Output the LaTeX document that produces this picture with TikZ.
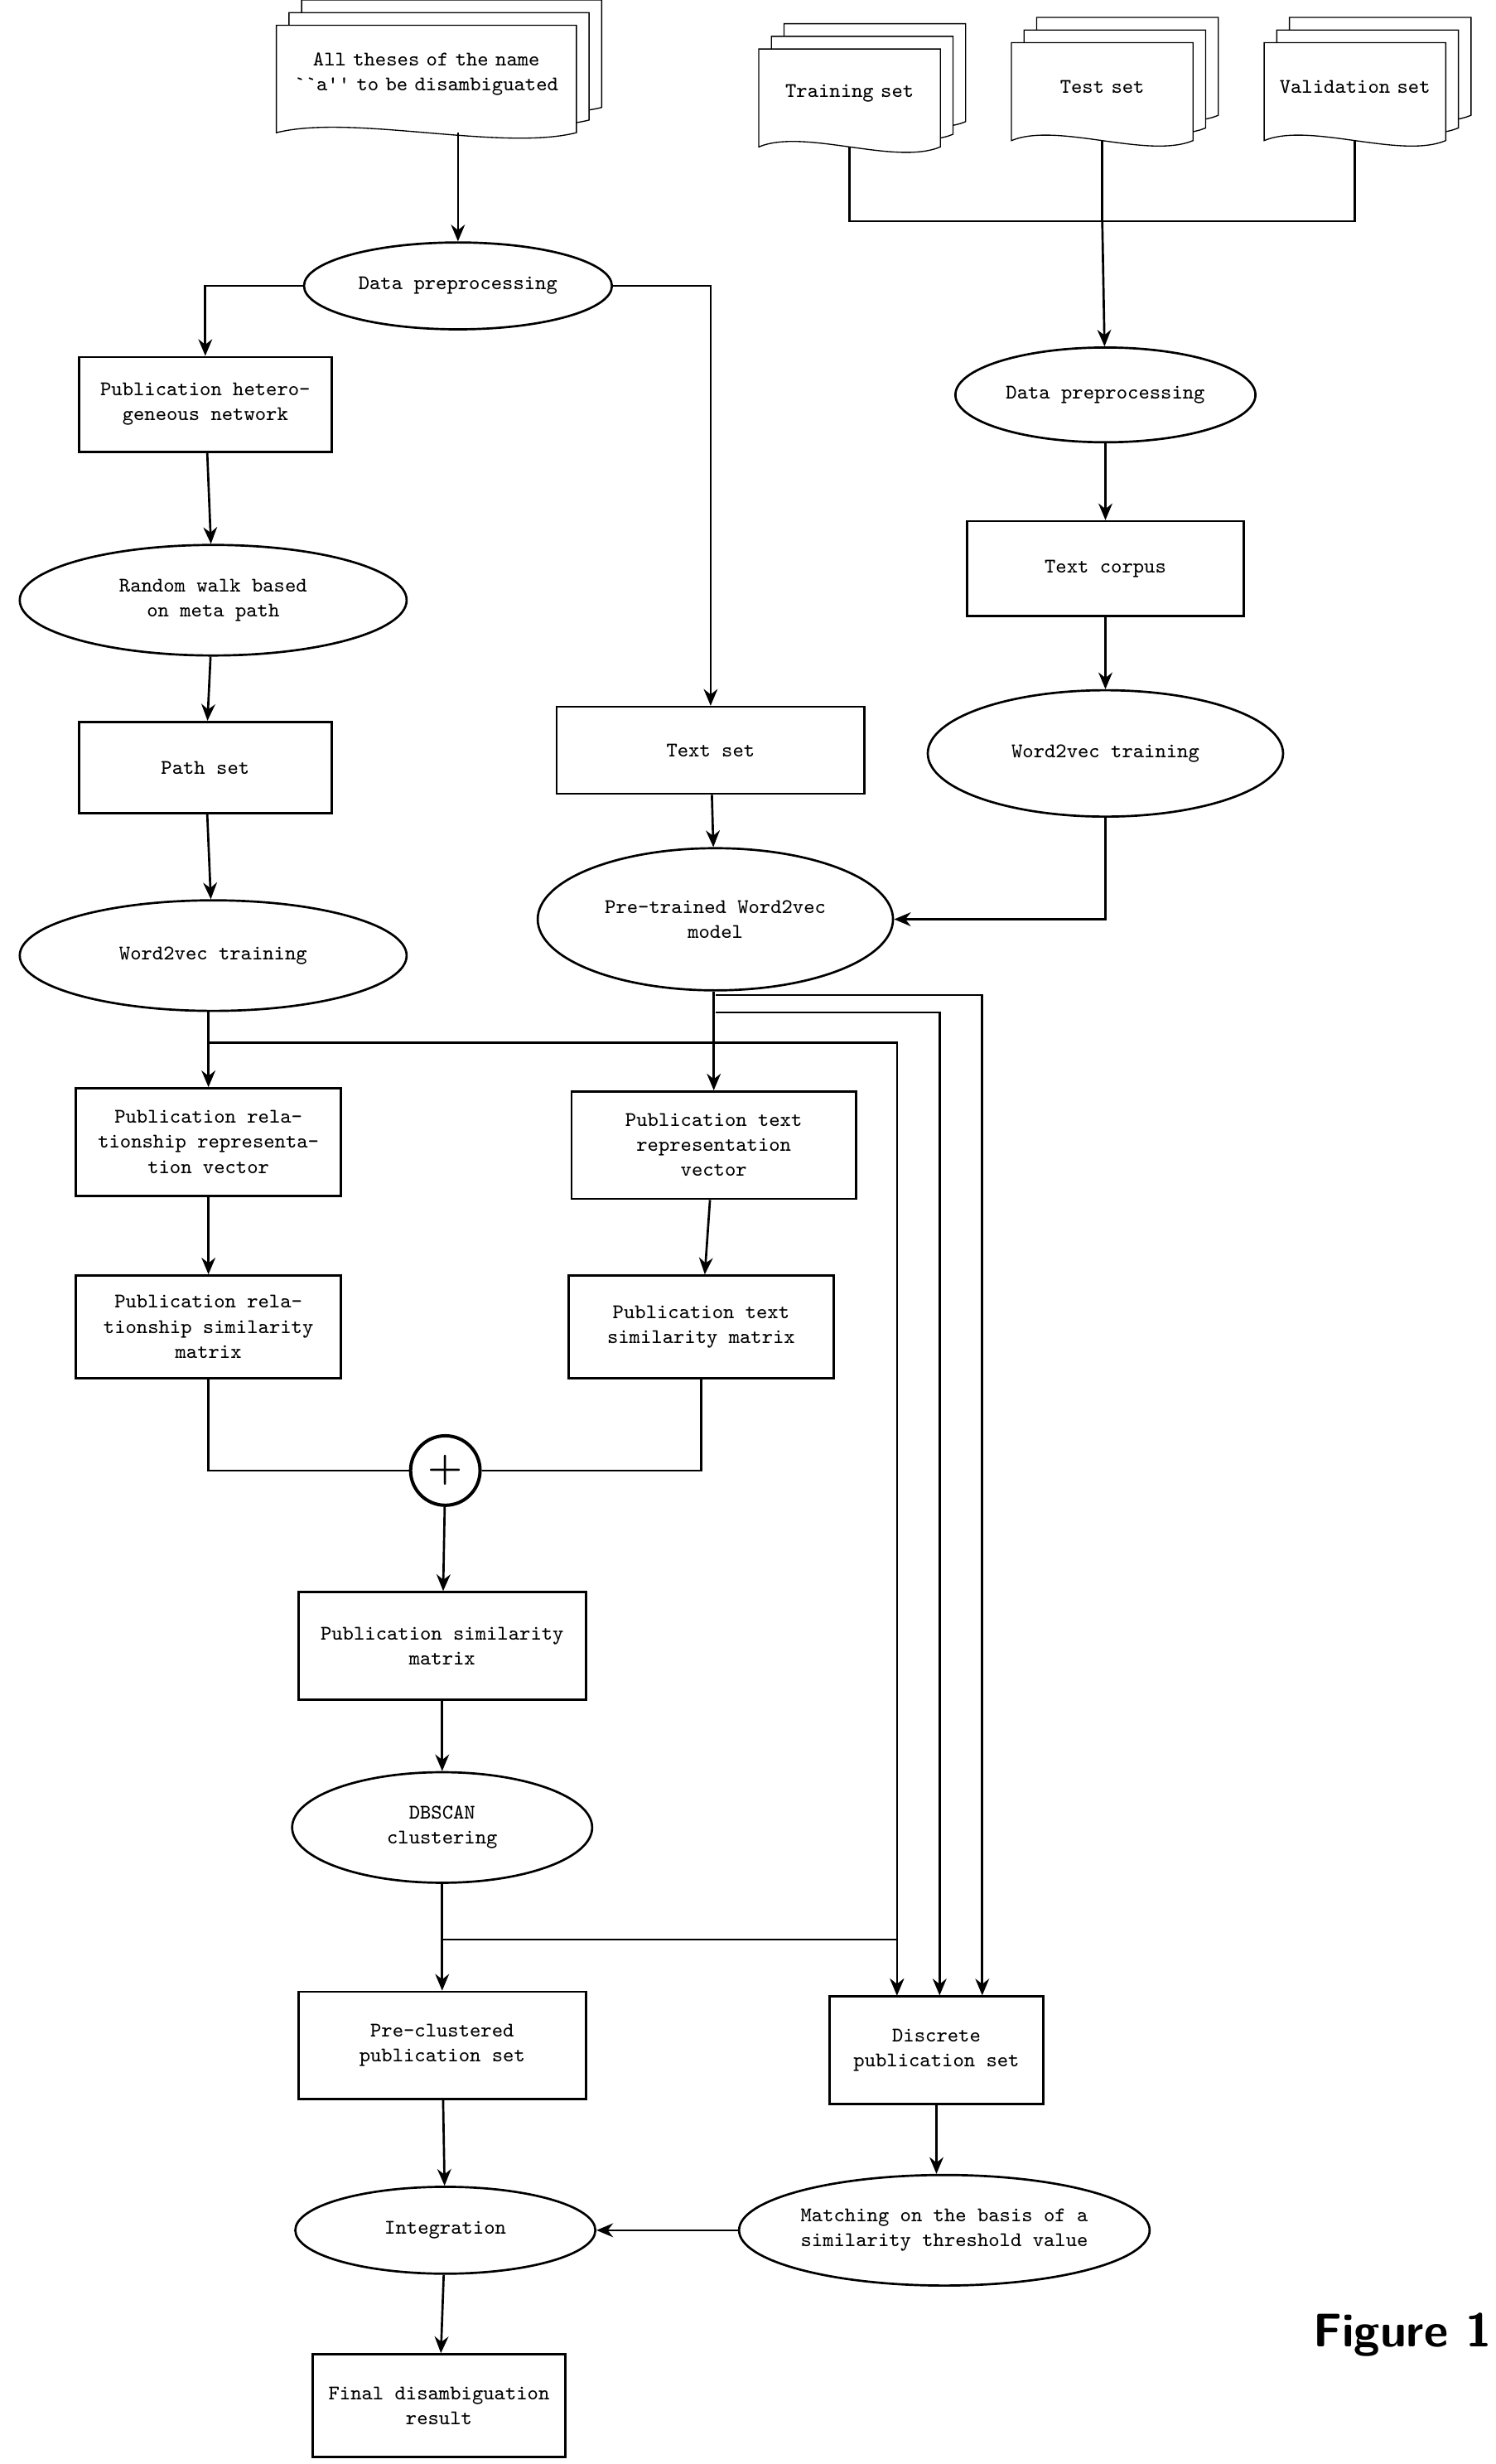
\documentclass[tikz,border=0pt]{standalone}
\usepackage{fontspec}
\usetikzlibrary{arrows.meta,shapes.geometric,calc}
\newcommand{\docstack}[6]{%
  % back sheets, then front sheet with wavy bottom
  \foreach \dd in {2,1} {
    \draw[fill=white] ($(#2,#3)+(-#4/2+8*\dd,-#5/2-8*\dd)$) -- ++(#4,0) -- ++(0,#5)
      .. controls ++(-#4/4,12) and ++(#4/4,-12) .. ++(-#4,0) -- cycle;
  }
  \draw[fill=white] ($(#2,#3)+(-#4/2,-#5/2)$) -- ++(#4,0) -- ++(0,#5)
    .. controls ++(-#4/4,12) and ++(#4/4,-12) .. ++(-#4,0) -- cycle;
  \node[txt, text width=#4*0.02cm] (#1) at ($(#2,#3)+(0,-3)$) {#6};
  \coordinate (#1-b) at ($(#2,#3)+(0,#5/2)$);
}
\begin{document}
\begin{tikzpicture}[x=0.02cm, y=-0.02cm,
    txt/.style={font=\ttfamily\fontsize{7.5}{9}\selectfont, align=center, inner sep=1pt},
    box/.style={txt, draw, thick, rectangle, minimum width=#1*0.02cm},
    oval/.style={txt, draw, thick, ellipse, inner sep=0pt},
    arr/.style={-{Stealth[length=6pt,width=5pt]}, thick},
    ln/.style={thick}
]
    \useasboundingbox (0,0) rectangle (947,1560);

    \docstack{all}{270}{50}{190}{68}{All theses of the name\\``a'' to be disambiguated}
    \docstack{train}{538}{62}{115}{62}{Training set}
    \docstack{test}{698}{58}{115}{62}{Test set}
    \docstack{valid}{858}{58}{115}{62}{Validation set}

    \node[oval, minimum width=195*0.02cm, minimum height=55*0.02cm] (dp1) at (290,181) {Data preprocessing};
    \node[oval, minimum width=190*0.02cm, minimum height=60*0.02cm] (dp2) at (700,250) {Data preprocessing};
    \node[box=160, minimum height=60*0.02cm] (het) at (130,256) {Publication hetero-\\geneous network};
    \node[oval, minimum width=245*0.02cm, minimum height=70*0.02cm] (walk) at (135,380) {Random walk based\\on meta path};
    \node[box=160, minimum height=58*0.02cm] (path) at (130,486) {Path set};
    \node[oval, minimum width=245*0.02cm, minimum height=70*0.02cm] (wvl) at (135,605) {Word2vec training};
    \node[box=195, minimum height=55*0.02cm] (textset) at (450,475) {Text set};
    \node[oval, minimum width=225*0.02cm, minimum height=90*0.02cm] (pre) at (453,582) {Pre-trained Word2vec\\model};
    \node[box=175, minimum height=60*0.02cm] (corpus) at (700,360) {Text corpus};
    \node[oval, minimum width=225*0.02cm, minimum height=80*0.02cm] (wvr) at (700,477) {Word2vec training};
    \node[box=168, minimum height=68*0.02cm] (relvec) at (132,723) {Publication rela-\\tionship representa-\\tion vector};
    \node[box=180, minimum height=68*0.02cm] (txtvec) at (452,725) {Publication text\\representation\\vector};
    \node[box=168, minimum height=65*0.02cm] (relsim) at (132,840) {Publication rela-\\tionship similarity\\matrix};
    \node[box=168, minimum height=65*0.02cm] (txtsim) at (444,840) {Publication text\\similarity matrix};
    \node[circle, draw, very thick, minimum size=44*0.02cm, inner sep=0pt, font=\Large\bfseries] (plus) at (282,931) {+};
    \node[box=182, minimum height=68*0.02cm] (simm) at (280,1042) {Publication similarity\\matrix};
    \node[oval, minimum width=190*0.02cm, minimum height=70*0.02cm] (dbscan) at (280,1157) {DBSCAN\\clustering};
    \node[box=182, minimum height=68*0.02cm] (precl) at (280,1295) {Pre-clustered\\publication set};
    \node[box=135, minimum height=68*0.02cm] (disc) at (593,1298) {Discrete\\publication set};
    \node[oval, minimum width=260*0.02cm, minimum height=70*0.02cm] (match) at (598,1412) {Matching on the basis of a\\similarity threshold value};
    \node[oval, minimum width=190*0.02cm, minimum height=55*0.02cm] (integ) at (282,1412) {Integration};
    \node[box=160, minimum height=65*0.02cm] (final) at (278,1523) {Final disambiguation\\result};
    \node[font=\sffamily\bfseries\fontsize{17}{20}\selectfont] (fig) at (888,1478) {Figure 1};

    % left branch
    \draw[arr] (all-b -| dp1) -- (dp1);
    \draw[arr] (dp1.west) -| (het.north);
    \draw[arr] (dp1.east) -| (textset.north);
    \draw[arr] (het) -- (walk);
    \draw[arr] (walk) -- (path);
    \draw[arr] (path) -- (wvl);
    \draw[arr] (wvl.south -| relvec) -- (relvec);
    \draw[arr] (relvec) -- (relsim);
    % right branch
    \draw[ln] (train-b) |- (858,140) -- (valid-b);
    \draw[ln] (test-b) -- (698,140);
    \draw[arr] (698,140) -- (dp2);
    \draw[arr] (dp2) -- (corpus);
    \draw[arr] (corpus) -- (wvr);
    \draw[arr] (wvr.south) |- (pre.east);
    \draw[arr] (textset) -- (pre);
    \draw[arr] (pre.south -| txtvec) -- (txtvec);
    \draw[arr] (txtvec) -- (txtsim);
    % feeds to discrete set
    \draw[arr] (132,660) -| (disc.north -| 568,0);
    \draw[arr] (453,641) -| (disc.north -| 595,0);
    \draw[arr] (453,630) -| (disc.north -| 622,0);
    % merge
    \draw[ln] (relsim.south) |- (plus.west);
    \draw[ln] (txtsim.south) |- (plus.east);
    \draw[arr] (plus) -- (simm);
    \draw[arr] (simm) -- (dbscan);
    \draw[arr] (dbscan) -- (precl);
    \draw[ln] (280,1228) -- (568,1228);
    \draw[arr] (568,1228) -- (disc.north -| 568,0);
    \draw[arr] (disc) -- (disc |- match.north);
    \draw[arr] (match.west) -- (integ.east);
    \draw[arr] (precl) -- (integ);
    \draw[arr] (integ) -- (final);
\end{tikzpicture}
\end{document}
